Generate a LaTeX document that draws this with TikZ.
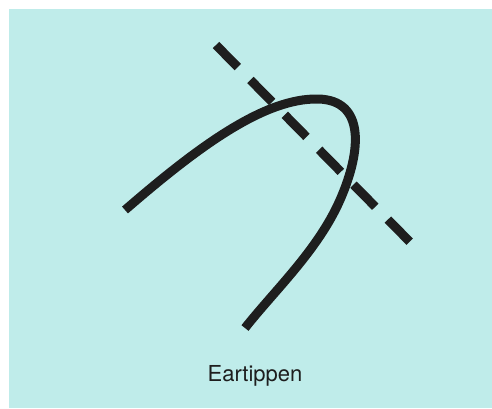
\documentclass[tikz,border=0pt]{standalone}
\usepackage{fontspec}
\setmainfont{TeX Gyre Heros}
\definecolor{bgcyan}{RGB}{191,236,234}
\definecolor{inkblack}{RGB}{30,30,30}
\tikzset{
  earline/.style={line width=4.5pt, draw=inkblack, line cap=butt},
  cutline/.style={line width=4.5pt, draw=inkblack, line cap=butt,
    dash pattern=on 15.5pt off 9pt},
  caption/.style={font=\fontsize{11}{13}\selectfont, text=inkblack}
}
\begin{document}
\begin{tikzpicture}[x=0.5pt, y=-0.5pt]

  % ---- Canvas ----
  \useasboundingbox (0,0) rectangle (492,408);
  \fill[bgcyan] (9,9) rectangle (492,408);

  % ---- Ear outline ----
  \coordinate (earstart) at (125,210);
  \coordinate (eartop) at (318,99);
  \coordinate (earside) at (340,200);
  \coordinate (earend) at (245,328);
  \draw[earline] (earstart) .. controls (200,145) and (265,98) .. (eartop)
    .. controls (365,100) and (362,150) .. (earside)
    .. controls (318,250) and (275,290) .. (earend);

  % ---- Cut line ----
  \coordinate (cutstart) at (216,45);
  \coordinate (cutend) at (410,242);
  \draw[cutline] (cutstart) -- (cutend);

  % ---- Caption ----
  \node[caption] (label) at (255,376) {Eartippen};

\end{tikzpicture}
\end{document}
